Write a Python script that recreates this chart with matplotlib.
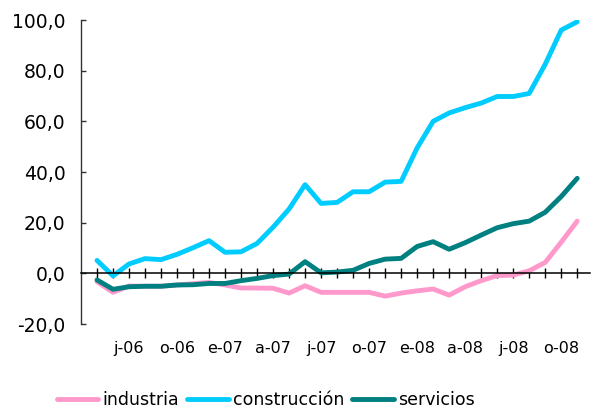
import matplotlib
matplotlib.use('Agg')
import matplotlib.pyplot as plt

# monthly series, May 2006 - Nov 2008
months = ['m-06', 'j-06', 'j-06', 'a-06', 's-06', 'o-06', 'n-06', 'd-06',
          'e-07', 'f-07', 'm-07', 'a-07', 'm-07', 'j-07', 'j-07', 'a-07',
          's-07', 'o-07', 'n-07', 'd-07', 'e-08', 'f-08', 'm-08', 'a-08',
          'm-08', 'j-08', 'j-08', 'a-08', 's-08', 'o-08', 'n-08']
# only every third month gets a label
shown_labels = ['', '', 'j-06', '', '', 'o-06', '', '', 'e-07', '', '', 'a-07',
                '', '', 'j-07', '', '', 'o-07', '', '', 'e-08', '', '', 'a-08',
                '', '', 'j-08', '', '', 'o-08', '']

industria = [-3.3, -7.5, -5.0, -5.1, -5.1, -4.6, -4.1, -3.6, -4.6, -5.8, -5.8,
             -5.9, -7.8, -4.9, -7.5, -7.5, -7.5, -7.5, -9.0, -7.8, -6.9, -6.2,
             -8.6, -5.3, -2.9, -0.9, -0.7, 1.0, 4.3, 12.3, 20.6]
construccion = [5.1, -1.0, 3.7, 5.8, 5.4, 7.5, 10.1, 12.9, 8.3, 8.5, 11.8,
                18.2, 25.4, 35.0, 27.6, 28.0, 32.2, 32.2, 36.0, 36.3, 49.5,
                60.0, 63.3, 65.4, 67.2, 69.8, 69.8, 71.0, 82.5, 96.0, 99.3]
servicios = [-2.6, -6.3, -5.3, -5.1, -5.1, -4.6, -4.5, -4.0, -4.0, -2.9, -2.0,
             -0.9, -0.3, 4.6, 0.2, 0.5, 1.2, 3.9, 5.6, 5.9, 10.6, 12.5, 9.5,
             12.1, 15.1, 18.0, 19.6, 20.6, 24.1, 30.3, 37.5]

yticks = [-20, 0, 20, 40, 60, 80, 100]
ytick_labels = ['-20,0', '0,0', '20,0', '40,0', '60,0', '80,0', '100,0']

fig = plt.figure(figsize=(5.91, 4.09), dpi=100)
ax = fig.add_axes([81/591, 1 - 324/409, 509/591, 304/409])

x = list(range(len(months)))
ax.plot(x, industria, color='#FF99CC', lw=3.5, solid_capstyle='round', solid_joinstyle='round', label='industria')
ax.plot(x, construccion, color='#00CCFF', lw=3.5, solid_capstyle='round', solid_joinstyle='round', label='construcción')
ax.plot(x, servicios, color='#008080', lw=3.5, solid_capstyle='round', solid_joinstyle='round', label='servicios')

ax.set_xlim(-1, 30.8)
ax.set_ylim(-20, 100)

# spines: x axis sits on zero, no box
ax.spines['top'].set_visible(False)
ax.spines['right'].set_visible(False)
ax.spines['bottom'].set_position(('data', 0))
ax.spines['bottom'].set_linewidth(1.1)
ax.spines['left'].set_linewidth(1.0)
ax.spines['left'].set_color('#333333')

ax.set_xticks(x)
ax.set_xticklabels(shown_labels, fontsize=11.5)
ax.tick_params(axis='x', direction='inout', length=7.5, width=1, pad=45)

ax.set_yticks(yticks)
ax.set_yticklabels(ytick_labels, fontsize=13.5)
ax.tick_params(axis='y', direction='in', length=3.6, width=1, pad=11, color='#333333')

fig.legend(loc='center', bbox_to_anchor=(266/591, 1 - 400/409), ncol=3,
           frameon=False, fontsize=12.5, handlelength=2.4, handletextpad=0.25,
           columnspacing=0.45, borderpad=0)

fig.savefig('out.png', dpi=100)
